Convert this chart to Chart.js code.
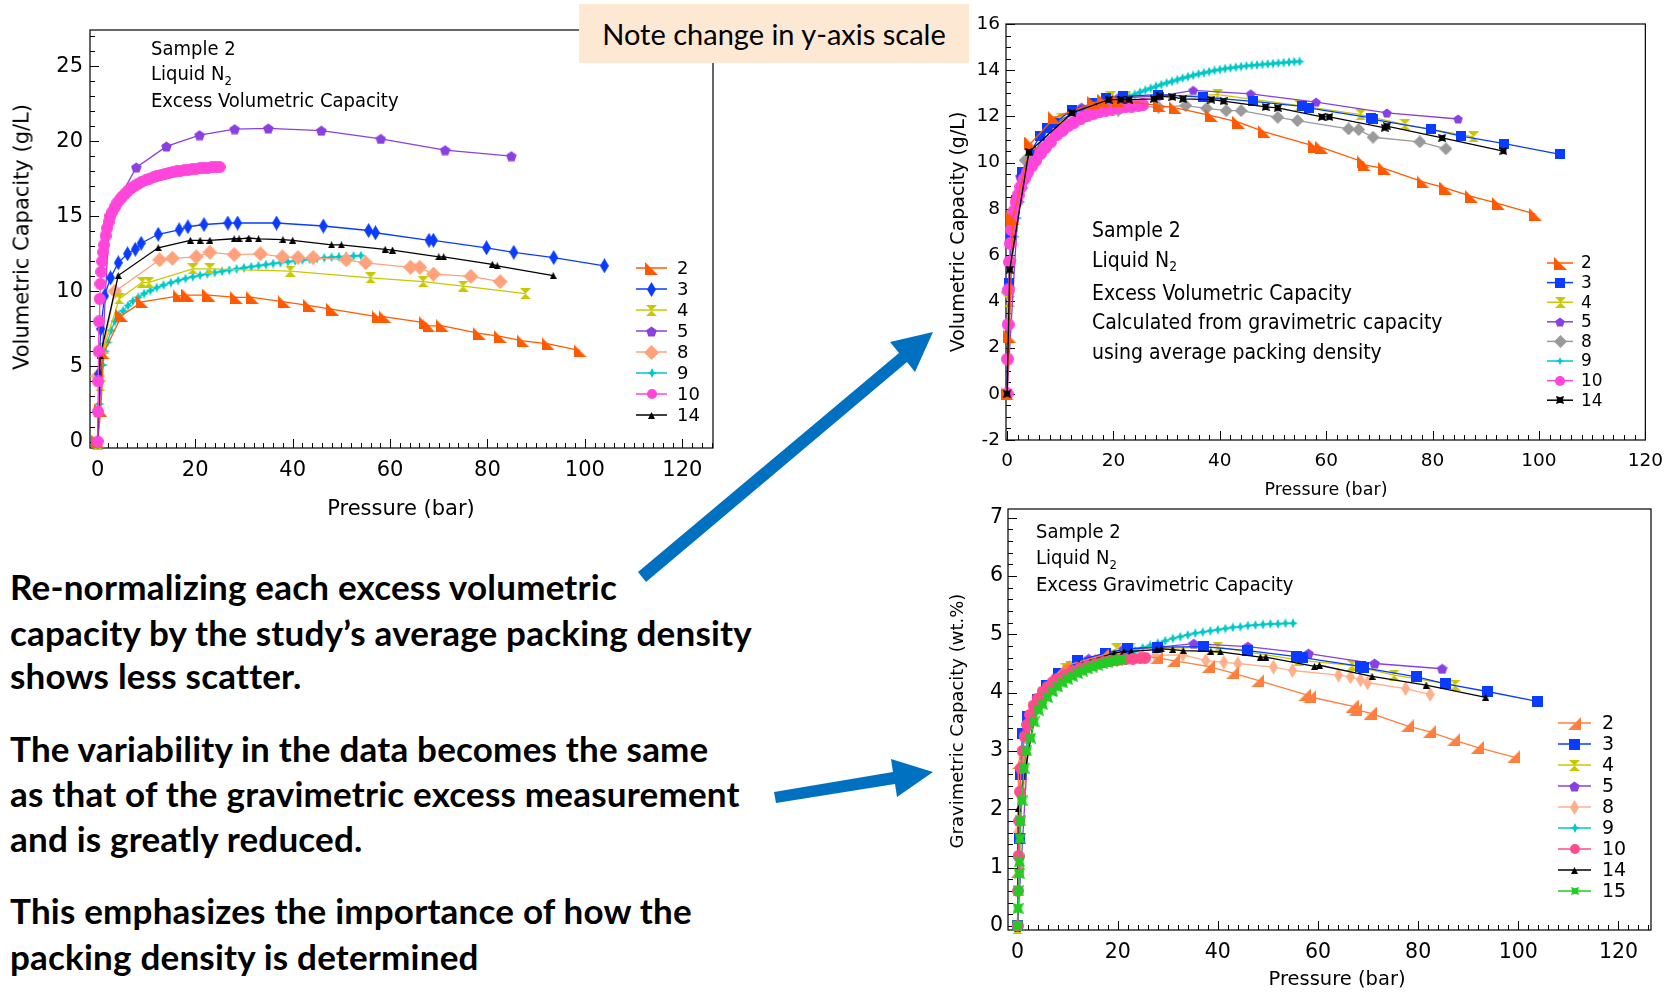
<!DOCTYPE html>
<html>
<head>
<meta charset="utf-8">
<script src="https://cdn.jsdelivr.net/npm/chart.js@4.4.0/dist/chart.umd.min.js"></script>
<style>
  body { margin: 0; width: 1673px; height: 992px; background: #fff; position: relative; overflow: hidden; }
  canvas { position: absolute; }
  .t { position: absolute; white-space: nowrap; line-height: 1; color: #000; }
  .chartTxt { font-family: "DejaVu Sans", sans-serif; }
  .ann { font-family: "DejaVu Sans Condensed", "DejaVu Sans", sans-serif; font-stretch: condensed; transform: translateY(-50%); }
  .ann sub { font-size: 65%; vertical-align: -0.35em; line-height: 0; }
  .xt { transform: translate(-50%, -50%); }
  .yt { transform: translate(-50%, -50%) rotate(-90deg); }
  .note { position: absolute; left: 579px; top: 4px; width: 390px; height: 59px; background: #fce8d3;
          font-family: Lato, "Open Sans", sans-serif; font-size: 29px; display: flex; align-items: center; justify-content: center; }
  .para { font-family: Lato, "Open Sans", sans-serif; font-weight: 700; font-size: 35px; letter-spacing: 0.2px; left: 10px; transform: translateY(-50%); }
  svg { position: absolute; left: 0; top: 0; }
</style>
</head>
<body>

<canvas id="volChart" width="740" height="530" style="left:0;top:0;width:740px;height:530px"></canvas>
<canvas id="normChart" width="733" height="470" style="left:940px;top:0;width:733px;height:470px"></canvas>
<canvas id="gravChart" width="733" height="512" style="left:940px;top:480px;width:733px;height:512px"></canvas>

<!-- axis titles -->
<div class="t chartTxt yt" style="left:22px;top:237px;font-size:21px">Volumetric Capacity (g/L)</div>
<div class="t chartTxt xt" style="left:401px;top:508px;font-size:21px">Pressure (bar)</div>
<div class="t chartTxt yt" style="left:957px;top:232px;font-size:19px">Volumetric Capacity (g/L)</div>
<div class="t chartTxt xt" style="left:1326px;top:490px;font-size:17.5px">Pressure (bar)</div>
<div class="t chartTxt yt" style="left:957px;top:721px;font-size:18px">Gravimetric Capacity (wt.%)</div>
<div class="t chartTxt xt" style="left:1337px;top:979px;font-size:19.5px">Pressure (bar)</div>

<!-- in-plot notes -->
<div class="t ann" style="left:151px;top:48px;font-size:20px">Sample 2</div>
<div class="t ann" style="left:151px;top:73px;font-size:20px">Liquid N<sub>2</sub></div>
<div class="t ann" style="left:151px;top:100px;font-size:20px">Excess Volumetric Capacity</div>

<div class="t ann" style="left:1092px;top:230px;font-size:21px">Sample 2</div>
<div class="t ann" style="left:1092px;top:260px;font-size:21px">Liquid N<sub>2</sub></div>
<div class="t ann" style="left:1092px;top:293px;font-size:21px">Excess Volumetric Capacity</div>
<div class="t ann" style="left:1092px;top:322px;font-size:21px">Calculated from gravimetric capacity</div>
<div class="t ann" style="left:1092px;top:352px;font-size:21px">using average packing density</div>

<div class="t ann" style="left:1036px;top:531px;font-size:20px">Sample 2</div>
<div class="t ann" style="left:1036px;top:557px;font-size:20px">Liquid N<sub>2</sub></div>
<div class="t ann" style="left:1036px;top:584px;font-size:20px">Excess Gravimetric Capacity</div>

<div class="note">Note change in y-axis scale</div>

<div class="t para" style="top:586px">Re-normalizing each excess volumetric</div>
<div class="t para" style="top:632px">capacity by the study’s average packing density</div>
<div class="t para" style="top:675px">shows less scatter.</div>
<div class="t para" style="top:748px">The variability in the data becomes the same</div>
<div class="t para" style="top:793px">as that of the gravimetric excess measurement</div>
<div class="t para" style="top:838px">and is greatly reduced.</div>
<div class="t para" style="top:910px">This emphasizes the importance of how the</div>
<div class="t para" style="top:956px">packing density is determined</div>

<svg width="1673" height="992">
  <polygon fill="#0070c0" points="638,572 899,353 890,342 933,332 915,372 907,362 646,582"/>
  <polygon fill="#0070c0" points="774,792 893,772 891,759 933,772 897,797 895,784 776,803"/>
</svg>

<script>
// sample ids shown in the legends
const sampleIds = ['2', '3', '4', '5', '8', '9', '10', '14'];
const gravIds = ['2', '3', '4', '5', '8', '9', '10', '14', '15'];

// axis labels
const pressTicks = [0, 20, 40, 60, 80, 100, 120];
const volTicks = [0, 5, 10, 15, 20, 25];
const normTicks = [-2, 0, 2, 4, 6, 8, 10, 12, 14, 16];
const gravTicks = [0, 1, 2, 3, 4, 5, 6, 7];

// excess volumetric capacity, g/L  [pressure bar, value]
const vol2 = [[0,0],[0.6,2.1],[1.2,5.9],[4.9,8.4],[9.1,9.3],[16.7,9.7],[18.5,9.75],[22.8,9.75],[28.4,9.6],[31.7,9.6],[38.3,9.3],[43.5,9.05],[48.2,8.8],[57.6,8.3],[59,8.3],[67.3,7.9],[68,7.7],[70.8,7.7],[78.3,7.2],[82.6,7.0],[87.3,6.7],[92.5,6.5],[99,6.05]];
const vol3 = [[0,0],[0.2,4.5],[0.6,7.5],[1.4,9.7],[2.6,10.9],[4.2,11.9],[6.1,12.5],[7.7,12.8],[8.9,13.2],[12.4,13.8],[16.7,14.1],[18.5,14.3],[21.8,14.45],[26.7,14.55],[28.7,14.55],[36.7,14.55],[46.3,14.35],[55.6,14.05],[57,13.9],[68,13.4],[68.9,13.4],[79.8,12.9],[85.4,12.6],[93.6,12.25],[104,11.7]];
const vol4 = [[0,-0.2],[0.5,3.7],[1.2,6.2],[4.4,9.5],[9.1,10.6],[10.5,10.6],[19.5,11.5],[23,11.5],[39.5,11.35],[56,10.9],[66.8,10.65],[75,10.35],[87.8,9.85]];
const vol5 = [[0,0],[2.4,15.0],[7.9,18.25],[14.1,19.65],[20.9,20.4],[28.1,20.8],[35,20.85],[45.9,20.7],[58.1,20.15],[71.3,19.4],[84.9,19.0]];
const vol8 = [[0,4.35],[3.5,10.0],[12.7,12.1],[15.3,12.2],[20.2,12.3],[23,12.6],[28,12.45],[33.4,12.5],[37.9,12.3],[41.1,12.25],[44.2,12.25],[51,12.1],[55,11.9],[64.2,11.6],[66.1,11.6],[68.9,11.15],[76.6,11.0],[82.6,10.65]];
const vol9 = [[0,0],[0.3,2.5],[0.6,4],[1,5.1],[1.5,6],[2,6.6],[2.7,7.4],[3.5,8.0],[4.3,8.4],[5.2,8.7],[6.2,9.05],[7.2,9.35],[8.3,9.6],[9.5,9.85],[10.8,10.05],[12.1,10.25],[13.5,10.42],[15,10.58],[16.5,10.72],[18,10.85],[19.5,10.97],[21,11.07],[22.5,11.16],[24,11.25],[25.5,11.33],[27,11.41],[28.5,11.49],[30,11.57],[31.5,11.64],[33,11.71],[34.5,11.78],[36,11.85],[37.5,11.91],[39,11.97],[40.5,12.03],[42,12.09],[43.5,12.14],[45,12.19],[46.5,12.23],[48,12.27],[49.5,12.3],[51,12.33],[52.5,12.36],[54,12.38]];
const vol10 = [[0,0],[0.05,2],[0.1,4],[0.15,6],[0.25,8],[0.4,9.5],[0.55,10.5],[0.7,11.3],[0.9,12],[1.1,12.6],[1.3,13.1],[1.6,13.7],[1.9,14.2],[2.2,14.6],[2.6,15],[3,15.3],[3.5,15.6],[4,15.9],[4.5,16.1],[5,16.3],[5.6,16.5],[6.2,16.7],[6.8,16.85],[7.5,17],[8.2,17.15],[9,17.3],[9.8,17.4],[10.6,17.5],[11.4,17.6],[12.2,17.7],[13,17.75],[13.8,17.82],[14.6,17.88],[15.4,17.93],[16.2,17.98],[17,18.03],[17.8,18.07],[18.6,18.1],[19.4,18.13],[20.2,18.16],[21,18.19],[21.8,18.21],[22.6,18.23],[23.4,18.25],[24.2,18.27],[25,18.28]];
const vol14 = [[0,0],[0.5,5.7],[4.2,11.05],[12.4,12.9],[19,13.4],[21,13.4],[23,13.4],[28,13.5],[29,13.5],[31,13.55],[33,13.5],[38,13.45],[40,13.4],[48,13.1],[50,13.1],[59,12.8],[60.5,12.75],[70,12.3],[71,12.3],[81,11.8],[82,11.7],[93.5,11.05]];

// volumetric capacity from gravimetric capacity and average packing density, g/L
const norm2 = [[0,0],[0.4,2.5],[1.1,7.6],[4.5,10.85],[8.9,11.95],[16.3,12.6],[18.2,12.7],[20.9,12.7],[28.6,12.47],[31.7,12.37],[38.4,12.04],[43.5,11.75],[48.4,11.33],[57.8,10.72],[59.2,10.65],[67,10.03],[67.2,9.9],[71,9.74],[78.2,9.17],[82.5,8.9],[87.3,8.54],[92.4,8.23],[99.3,7.77]];
const norm3 = [[0,0],[0.3,4.8],[0.8,6.8],[1.6,8.4],[2.9,9.6],[4.5,10.5],[6.2,11.15],[7.6,11.5],[8.9,11.7],[12.2,12.3],[16.3,12.57],[18.6,12.8],[21.8,12.87],[28.3,12.94],[36.8,12.84],[46.3,12.65],[55.5,12.44],[56.7,12.37],[68.4,11.94],[68.8,11.87],[79.7,11.44],[85.4,11.15],[93.5,10.82],[104,10.36]];
const norm4 = [[0,-0.05],[0.5,4],[1.3,7],[4.8,10.4],[9.5,11.8],[10.3,11.9],[19.5,12.85],[22.3,12.85],[39.6,12.94],[55,12.47],[66.5,12.08],[74.8,11.65],[87.7,11.12]];
const norm5 = [[0,0],[2.4,9.4],[7.9,11.5],[14,12.4],[20.9,12.82],[28.3,12.87],[35,13.13],[45.8,12.98],[58.1,12.62],[71.4,12.15],[84.8,11.89]];
const norm8 = [[0,4.4],[3.4,10.1],[12.6,12.2],[15.3,12.25],[20.9,12.27],[23.5,12.45],[28.5,12.4],[33.6,12.47],[37.5,12.35],[41.2,12.25],[44,12.25],[50.9,11.96],[54.6,11.82],[64.2,11.46],[66.1,11.43],[68.8,11.1],[77.6,10.9],[82.5,10.6]];
const norm9 = [[0,0],[0.2,1.5],[0.4,3],[0.7,4.6],[1,5.8],[1.4,6.8],[1.9,7.6],[2.5,8.3],[3.2,8.9],[4,9.4],[5,9.9],[6,10.3],[7,10.65],[8,10.95],[9,11.2],[10,11.4],[11,11.6],[12,11.75],[13,11.9],[14,12.02],[15,12.13],[16,12.23],[17,12.32],[18,12.4],[19,12.5],[20,12.58],[21,12.66],[22,12.75],[23,12.85],[24,12.95],[25,13.05],[26,13.14],[27,13.22],[28,13.3],[29,13.38],[30,13.45],[31,13.52],[32,13.59],[33,13.66],[34,13.72],[35,13.78],[36,13.84],[37,13.89],[38,13.94],[39,13.99],[40,14.03],[41,14.07],[42,14.1],[43,14.13],[44,14.16],[45,14.19],[46,14.21],[47,14.23],[48,14.25],[49,14.27],[50,14.29],[51,14.31],[52,14.33],[53,14.35],[54,14.37],[55,14.38]];
const norm10 = [[0,0],[0.1,1.5],[0.2,3],[0.3,4.5],[0.45,5.7],[0.6,6.5],[0.8,7.1],[1,7.5],[1.3,7.9],[1.7,8.3],[2.1,8.6],[2.6,8.95],[3.2,9.3],[3.9,9.6],[4.6,9.85],[5.4,10.1],[6.3,10.4],[7.2,10.65],[8.2,10.9],[9.3,11.2],[10.4,11.4],[11.5,11.6],[12.6,11.75],[13.8,11.9],[15,12.02],[16.2,12.12],[17.4,12.2],[18.6,12.27],[19.8,12.32],[21,12.37],[22.2,12.41],[23.4,12.44],[24.6,12.47],[25.5,12.5]];
const norm14 = [[0,0],[0.5,5.37],[4.1,10.46],[12.2,12.15],[19.1,12.73],[21.4,12.73],[22.9,12.73],[27.6,12.76],[28.8,12.87],[31.1,12.84],[33.1,12.76],[38.4,12.73],[40.7,12.66],[48.6,12.41],[50.9,12.37],[59.2,11.98],[60.6,11.98],[71,11.51],[71.4,11.58],[81.8,11.07],[93.3,10.5]];

// excess gravimetric capacity, wt.%
const grav2 = [[0,0.94],[0.2,2.8],[3.9,3.93],[9.2,4.45],[16.9,4.64],[20,4.66],[27.8,4.6],[31.1,4.55],[38.1,4.45],[42.9,4.34],[48,4.21],[57.4,3.97],[58.3,3.93],[66.8,3.77],[67.5,3.71],[70.4,3.65],[77.8,3.43],[82.2,3.33],[87,3.19],[91.8,3.06],[99,2.9]];
const grav3 = [[0,0],[0.3,1.5],[0.6,2.6],[1,3.3],[1.9,3.59],[3.9,3.88],[5.8,4.13],[8.2,4.33],[12,4.55],[17.5,4.68],[22,4.75],[28,4.78],[37.1,4.79],[46,4.72],[55.7,4.62],[57,4.6],[68.5,4.45],[69,4.43],[79.7,4.27],[85.5,4.15],[93.8,4.02],[103.8,3.85]];
const grav4 = [[0,-0.05],[0.5,1.5],[1.2,2.8],[4.8,3.9],[9.6,4.41],[10.5,4.45],[19.8,4.75],[22.5,4.75],[40,4.78],[56.2,4.56],[66.8,4.47],[75.2,4.3],[87.4,4.13]];
const grav5 = [[0,0],[2.4,3.5],[7.7,4.27],[14.2,4.58],[21.2,4.75],[28.3,4.78],[35.2,4.84],[46,4.79],[58.1,4.67],[71.3,4.5],[84.8,4.41]];
const grav8 = [[0,1.6],[3.5,3.8],[12.5,4.5],[15.5,4.55],[21,4.6],[27.5,4.64],[33,4.65],[37.6,4.55],[41.2,4.52],[44,4.5],[51.1,4.44],[54.9,4.38],[64.1,4.3],[66.5,4.27],[68.5,4.22],[69.9,4.17],[77.5,4.07],[82.4,3.97]];
const grav9 = [[0,0],[0.3,1.2],[0.7,2.2],[1.2,2.8],[2,3.2],[3,3.5],[4,3.7],[5.5,3.9],[7,4.05],[8.5,4.16],[10,4.25],[11.5,4.32],[13,4.38],[14.5,4.44],[16,4.49],[17.5,4.53],[19,4.57],[20.5,4.61],[22,4.66],[23.5,4.72],[25,4.77],[26.5,4.81],[28,4.85],[29.5,4.89],[31,4.93],[32.5,4.96],[34,4.99],[35.5,5.02],[37,5.04],[38.5,5.06],[40,5.08],[41.5,5.1],[43,5.12],[44.5,5.13],[46,5.15],[47.5,5.16],[49,5.17],[50.5,5.18],[52,5.18],[53.5,5.19],[55,5.19]];
const grav10 = [[0,0],[0.1,0.6],[0.2,1.2],[0.35,1.8],[0.5,2.3],[0.7,2.7],[1,3.0],[1.4,3.25],[1.9,3.45],[2.5,3.62],[3.2,3.78],[4,3.9],[5,4.02],[6,4.1],[7,4.18],[8,4.24],[9.5,4.31],[11,4.37],[12.5,4.42],[14,4.46],[15.5,4.49],[17,4.52],[18.5,4.54],[20,4.56],[21.5,4.57],[23,4.58],[24.5,4.59],[25.5,4.6]];
const grav14 = [[0,-0.05],[0.2,2.02],[4.1,3.93],[12.3,4.5],[19.3,4.68],[21.2,4.71],[22.7,4.71],[27.8,4.74],[28.7,4.75],[31,4.74],[33.1,4.72],[38.6,4.71],[40.5,4.7],[48.5,4.61],[49.6,4.61],[59.3,4.45],[60.3,4.47],[70.8,4.28],[81.6,4.13],[93.5,3.92]];
const grav15 = [[0,0],[0.1,0.3],[0.2,0.6],[0.3,0.9],[0.4,1.1],[0.5,1.5],[0.6,1.8],[0.9,2.15],[1.3,2.7],[1.8,3.0],[2.6,3.22],[3.3,3.5],[4.2,3.7],[5,3.8],[6,3.92],[7,4.02],[8,4.1],[9,4.17],[10,4.23],[11,4.28],[12,4.33],[13,4.37],[14,4.41],[15,4.44],[16,4.47],[17,4.5],[18,4.52],[19,4.54],[20,4.56],[20.8,4.57]];

// marker bitmaps used as point styles
function marker(shape, color, w, h) {
  const c = document.createElement('canvas');
  c.width = w; c.height = h;
  const g = c.getContext('2d');
  g.fillStyle = color;
  g.beginPath();
  if (shape === 'flagL') { g.moveTo(0, 0); g.lineTo(0, h); g.lineTo(w, h); }
  else if (shape === 'flagR') { g.moveTo(w, 0); g.lineTo(w, h); g.lineTo(0, h); }
  else if (shape === 'diamond') { g.moveTo(w / 2, 0); g.lineTo(w, h / 2); g.lineTo(w / 2, h); g.lineTo(0, h / 2); }
  else if (shape === 'square') { g.rect(0, 0, w, h); }
  else if (shape === 'hourglass') {
    g.moveTo(0, 0); g.lineTo(w, 0); g.lineTo(w / 2, h / 2); g.closePath();
    g.moveTo(0, h); g.lineTo(w, h); g.lineTo(w / 2, h / 2);
  }
  else if (shape === 'pentagon') {
    for (let i = 0; i < 5; i++) {
      const a = -Math.PI / 2 + i * 2 * Math.PI / 5;
      g.lineTo(w / 2 + w / 2 * Math.cos(a), h / 2 + h / 2 * Math.sin(a) + h * 0.05);
    }
  }
  else if (shape === 'star4') {
    const k = w * 0.16;
    g.moveTo(w / 2, 0); g.lineTo(w / 2 + k, h / 2 - k); g.lineTo(w, h / 2); g.lineTo(w / 2 + k, h / 2 + k);
    g.lineTo(w / 2, h); g.lineTo(w / 2 - k, h / 2 + k); g.lineTo(0, h / 2); g.lineTo(w / 2 - k, h / 2 - k);
  }
  else if (shape === 'circle') { g.arc(w / 2, h / 2, w / 2, 0, Math.PI * 2); }
  else if (shape === 'triangle') { g.moveTo(w / 2, 0); g.lineTo(w, h); g.lineTo(0, h); }
  else if (shape === 'cross') {
    // square with pinched sides
    const k = w * 0.15;
    g.moveTo(0, 0); g.lineTo(w / 2, k); g.lineTo(w, 0); g.lineTo(w - k, h / 2);
    g.lineTo(w, h); g.lineTo(w / 2, h - k); g.lineTo(0, h); g.lineTo(k, h / 2);
  }
  g.closePath();
  g.fill();
  return c;
}

function series(label, pts, color, mk, order) {
  return {
    label: label, data: pts, showLine: true, borderColor: color, backgroundColor: color,
    borderWidth: 1.3, pointStyle: mk, pointRadius: 5, pointHoverRadius: 5,
    order: order || 0, clip: false, tension: 0
  };
}

// frame around the plot with inward major/minor ticks
const frameTicks = {
  id: 'frameTicks',
  beforeDatasetsDraw(chart, args, o) {
    const { ctx, chartArea: a, scales: { x, y } } = chart;
    ctx.save();
    ctx.strokeStyle = '#000';
    ctx.lineWidth = 1.2;
    ctx.strokeRect(a.left, a.top, a.right - a.left, a.bottom - a.top);
    ctx.lineWidth = 1;
    ctx.beginPath();
    const isMajor = (v, m) => Math.abs(v / m - Math.round(v / m)) < 1e-6;
    for (let k = Math.ceil(x.min / o.xMinor); k * o.xMinor <= x.max; k++) {
      const v = k * o.xMinor;
      const px = Math.round(x.getPixelForValue(v)) + 0.5;
      const len = isMajor(v, o.xMajor) ? 9 : 5;
      ctx.moveTo(px, a.bottom); ctx.lineTo(px, a.bottom - len);
    }
    for (let k = Math.ceil(y.min / o.yMinor - 1e-6); k * o.yMinor <= y.max + 1e-6; k++) {
      const v = k * o.yMinor;
      const py = Math.round(y.getPixelForValue(v)) + 0.5;
      const len = isMajor(v, o.yMajor) ? 9 : 5;
      ctx.moveTo(a.left, py); ctx.lineTo(a.left + len, py);
    }
    ctx.stroke();
    ctx.restore();
  }
};

// legend drawn inside the plot: line sample, marker and id
const sideLegend = {
  id: 'sideLegend',
  afterDatasetsDraw(chart, args, o) {
    const ctx = chart.ctx;
    ctx.save();
    ctx.font = o.font;
    ctx.textBaseline = 'middle';
    ctx.textAlign = 'left';
    chart.data.datasets.forEach((ds, i) => {
      const y = o.y + i * o.step;
      ctx.strokeStyle = ds.borderColor;
      ctx.lineWidth = 1.5;
      ctx.beginPath(); ctx.moveTo(o.x0, y); ctx.lineTo(o.x1, y); ctx.stroke();
      const m = o.marks[i] || ds.pointStyle;
      ctx.drawImage(m, Math.round((o.x0 + o.x1) / 2 - m.width / 2), Math.round(y - m.height / 2));
      ctx.fillStyle = '#000';
      ctx.fillText(ds.label, o.tx, y + 1);
    });
    ctx.restore();
  }
};

Chart.register(frameTicks, sideLegend);

function axes(xr, yr, xTicks, yTicks, yWidth, xHeight, fontSize, xPad, yPad) {
  const tickFont = { family: '"DejaVu Sans", sans-serif', size: fontSize };
  return {
    x: {
      type: 'linear', min: xr[0], max: xr[1],
      afterBuildTicks: s => { s.ticks = xTicks.map(v => ({ value: v })); },
      afterFit: s => { s.height = xHeight; },
      grid: { display: false, drawTicks: false }, border: { display: false },
      ticks: { padding: xPad, font: tickFont, color: '#000', maxRotation: 0, autoSkip: false }
    },
    y: {
      type: 'linear', min: yr[0], max: yr[1],
      afterBuildTicks: s => { s.ticks = yTicks.map(v => ({ value: v })); },
      afterFit: s => { s.width = yWidth; },
      grid: { display: false, drawTicks: false }, border: { display: false },
      ticks: { padding: yPad, font: tickFont, color: '#000', autoSkip: false }
    }
  };
}

const baseOpts = {
  responsive: false, animation: false,
  events: []
};

// excess volumetric capacity
const volMk = {
  '2': marker('flagL', '#ff5a00', 13, 13),
  '3': marker('diamond', '#0a3cff', 9, 15),
  '4': marker('hourglass', '#c8c800', 11, 11),
  '5': marker('pentagon', '#8a3fe0', 11, 11),
  '8': marker('diamond', '#ffa27c', 15, 15),
  '9': marker('star4', '#00c8c8', 10, 10),
  '10': marker('circle', '#ff45da', 12, 12),
  '14': marker('triangle', '#000000', 7, 7)
};
new Chart(document.getElementById('volChart'), {
  type: 'scatter',
  data: {
    datasets: [
      series(sampleIds[0], vol2, '#ff5a00', volMk['2'], 1),
      series(sampleIds[1], vol3, '#0a3cff', volMk['3'], 2),
      series(sampleIds[2], vol4, '#c8c800', volMk['4'], 4),
      series(sampleIds[3], vol5, '#8a3fe0', volMk['5'], 3),
      series(sampleIds[4], vol8, '#ffa27c', volMk['8'], 5),
      series(sampleIds[5], vol9, '#00c8c8', volMk['9'], 6),
      series(sampleIds[6], vol10, '#ff45da', volMk['10'], 0),
      series(sampleIds[7], vol14, '#000000', volMk['14'], 0)
    ]
  },
  options: Object.assign({}, baseOpts, {
    layout: { padding: { top: 30, right: 27, left: 0, bottom: 0 } },
    scales: axes([-1.6, 126.3], [-0.43, 27.4], pressTicks, volTicks, 90, 82, 21, 10, 7),
    plugins: {
      legend: { display: false }, tooltip: { enabled: false },
      frameTicks: { xMinor: 2, xMajor: 20, yMinor: 1, yMajor: 5 },
      sideLegend: { x0: 636, x1: 667, tx: 677, y: 268, step: 21, font: '18px "DejaVu Sans", sans-serif',
                    marks: [null, null, null, null, null, null, marker('circle', '#ff45da', 10, 10), null] }
    }
  })
});

// volumetric capacity rebuilt from gravimetric data
const normMk = {
  '2': marker('flagL', '#ff5a00', 13, 13),
  '3': marker('square', '#0a3cff', 10, 10),
  '4': marker('hourglass', '#c8c800', 11, 11),
  '5': marker('pentagon', '#8a3fe0', 10, 10),
  '8': marker('diamond', '#9a9a9a', 13, 13),
  '9': marker('star4', '#00c8c8', 10, 10),
  '10': marker('circle', '#ff45da', 13, 13),
  '14': marker('cross', '#000000', 8, 8)
};
new Chart(document.getElementById('normChart'), {
  type: 'scatter',
  data: {
    datasets: [
      series(sampleIds[0], norm2, '#ff5a00', normMk['2'], 1),
      series(sampleIds[1], norm3, '#0a3cff', normMk['3'], 2),
      series(sampleIds[2], norm4, '#c8c800', normMk['4'], 4),
      series(sampleIds[3], norm5, '#8a3fe0', normMk['5'], 3),
      series(sampleIds[4], norm8, '#9a9a9a', normMk['8'], 5),
      series(sampleIds[5], norm9, '#00c8c8', normMk['9'], 6),
      series(sampleIds[6], norm10, '#ff45da', normMk['10'], 1),
      series(sampleIds[7], norm14, '#000000', normMk['14'], 0)
    ]
  },
  options: Object.assign({}, baseOpts, {
    layout: { padding: { top: 24, right: 25, left: 0, bottom: 0 } },
    scales: axes([-0.2, 120], [-2, 16], pressTicks, normTicks, 66, 30, 18.5, 10, 6),
    plugins: {
      legend: { display: false }, tooltip: { enabled: false },
      frameTicks: { xMinor: 2, xMajor: 20, yMinor: 0.5, yMajor: 2 },
      sideLegend: { x0: 607, x1: 633, tx: 641, y: 263, step: 19.6, font: '17px "DejaVu Sans", sans-serif',
                    marks: [null, null, null, null, null, marker('star4', '#00c8c8', 8, 8), marker('circle', '#ff45da', 10, 10), null] }
    }
  })
});

// excess gravimetric capacity
const gravMk = {
  '2': marker('flagR', '#ff7f3f', 13, 13),
  '3': marker('square', '#0a3cff', 11, 11),
  '4': marker('hourglass', '#c8c800', 11, 11),
  '5': marker('pentagon', '#8a3fe0', 11, 11),
  '8': marker('diamond', '#ffb08a', 9, 15),
  '9': marker('star4', '#00c8c8', 10, 10),
  '10': marker('circle', '#ff4a8c', 12, 12),
  '14': marker('triangle', '#000000', 7, 7),
  '15': marker('cross', '#22cc22', 11, 11)
};
new Chart(document.getElementById('gravChart'), {
  type: 'scatter',
  data: {
    datasets: [
      series(gravIds[0], grav2, '#ff7f3f', gravMk['2'], 2),
      series(gravIds[1], grav3, '#0a3cff', gravMk['3'], 3),
      series(gravIds[2], grav4, '#c8c800', gravMk['4'], 5),
      series(gravIds[3], grav5, '#8a3fe0', gravMk['5'], 4),
      series(gravIds[4], grav8, '#ffb08a', gravMk['8'], 6),
      series(gravIds[5], grav9, '#00c8c8', gravMk['9'], 7),
      series(gravIds[6], grav10, '#ff4a8c', gravMk['10'], 1),
      series(gravIds[7], grav14, '#000000', gravMk['14'], 1),
      series(gravIds[8], grav15, '#22cc22', gravMk['15'], 0)
    ]
  },
  options: Object.assign({}, baseOpts, {
    layout: { padding: { top: 29, right: 22, left: 0, bottom: 0 } },
    scales: axes([-1.9, 126.5], [-0.07, 7.15], pressTicks, gravTicks, 68, 62, 20.5, 10, 5),
    plugins: {
      legend: { display: false }, tooltip: { enabled: false },
      frameTicks: { xMinor: 2, xMajor: 20, yMinor: 0.2, yMajor: 1 },
      sideLegend: { x0: 618, x1: 651, tx: 662, y: 243, step: 21, font: '19px "DejaVu Sans", sans-serif',
                    marks: [null, null, null, null, null, null, marker('circle', '#ff4a8c', 10, 10), null, marker('cross', '#22cc22', 8, 8)] }
    }
  })
});
</script>
</body>
</html>
